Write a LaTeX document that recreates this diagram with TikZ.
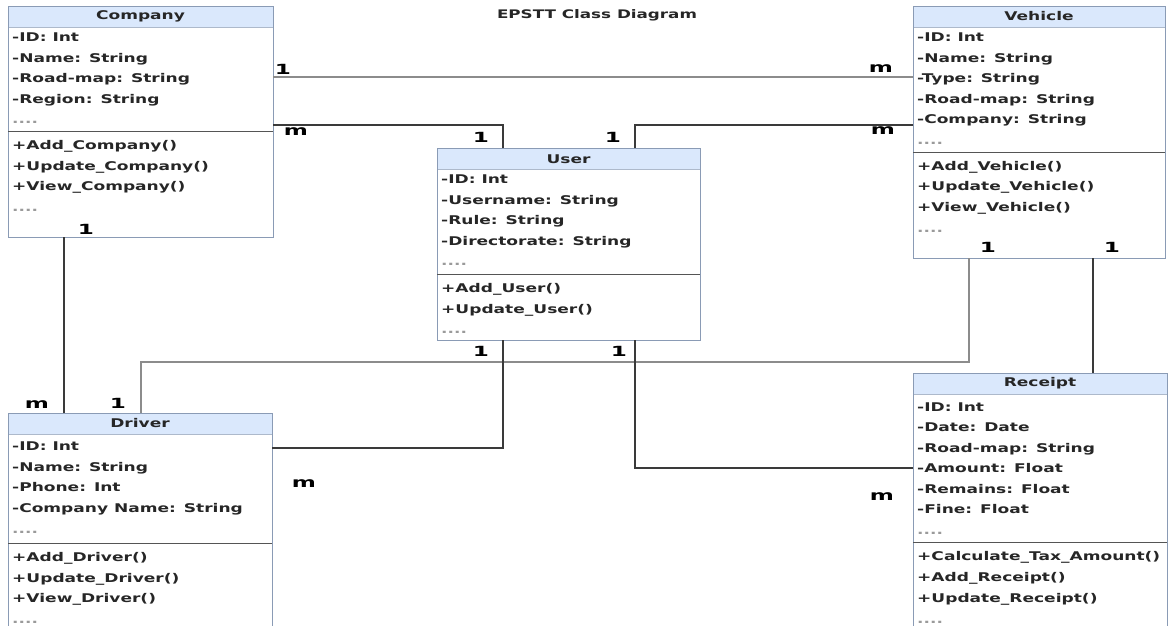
\documentclass[tikz,border=0pt]{standalone}
\usepackage{fontspec}
\newfontfamily\umlbf[FakeStretch=1.42]{DejaVu Sans Bold}
\newfontfamily\multbf[FakeStretch=1.65]{DejaVu Sans Bold}
\definecolor{hdrfill}{HTML}{DAE8FC}
\definecolor{boxline}{HTML}{8A9BB5}
\definecolor{inkc}{HTML}{262626}
\definecolor{dotc}{HTML}{9A9A9A}
\definecolor{wire}{HTML}{3A3A3A}
\definecolor{wirelight}{HTML}{8C8C8C}
\definecolor{sepc}{HTML}{555555}

\begin{document}
\begin{tikzpicture}[x=1pt,y=-1pt,
  classbox/.style={draw=boxline, line width=0.9pt, fill=white, inner sep=0pt,
    outer sep=0pt, anchor=north west,
    path picture={
      \fill[hdrfill] (path picture bounding box.north west) rectangle
        ([yshift=-21pt]path picture bounding box.north east);
      \draw[boxline!70, line width=0.6pt]
        ([yshift=-21pt]path picture bounding box.north west) --
        ([yshift=-21pt]path picture bounding box.north east);}},
  title/.style={font={\umlbf\fontsize{11.8}{14}\selectfont}, text=inkc, inner sep=0pt},
  hdrtext/.style={font={\umlbf\fontsize{12}{14}\selectfont}, text=inkc, inner sep=0pt},
  row/.style={font={\umlbf\fontsize{12}{14}\selectfont}, text=inkc, anchor=west,
    inner sep=0pt, text height=8.8pt, text depth=0pt},
  dots/.style={row, text=dotc},
  mult/.style={font={\multbf\fontsize{14}{16}\selectfont}, text=black, inner sep=0pt},
  assoc/.style={draw=wire, line width=1.3pt},
  assoclight/.style={draw=wirelight, line width=1.6pt},
  sepline/.style={draw=sepc, line width=1pt}
]
\useasboundingbox (0,0) rectangle (1169,625);
\fill[white] (0,0) rectangle (1169,625);
\clip (0,0) rectangle (1169,625);

\node[title] (title) at (597,15) {EPSTT Class Diagram};

% ---------- class frames ----------
\node[classbox, minimum width=265pt, minimum height=231pt] (company) at (8,6) {};
\node[classbox, minimum width=252pt, minimum height=252pt] (vehicle) at (913,6) {};
\node[classbox, minimum width=263pt, minimum height=192pt] (user) at (437,148) {};
\node[classbox, minimum width=264pt, minimum height=230pt] (driver) at (8,413) {};
\node[classbox, minimum width=254pt, minimum height=270pt] (receipt) at (913,373) {};

% ---------- compartments ----------
\draw[sepline] ([yshift=-125pt]company.north west) -- ([yshift=-125pt]company.north east);
\draw[sepline] ([yshift=-146pt]vehicle.north west) -- ([yshift=-146pt]vehicle.north east);
\draw[sepline] ([yshift=-126pt]user.north west) -- ([yshift=-126pt]user.north east);
\draw[sepline] ([yshift=-130pt]driver.north west) -- ([yshift=-130pt]driver.north east);
\draw[sepline] ([yshift=-169pt]receipt.north west) -- ([yshift=-169pt]receipt.north east);

% ---------- Company ----------
\node[hdrtext] (co-h) at (140.5,16.5) {Company};
\foreach \t [count=\i from 0] in {{-ID: Int},{-Name: String},{-Road-map: String},{-Region: String}}
  \node[row] (co-a\i) at (12,{37+20.6*\i}) {\t};
\node[dots] (co-ad) at (12,119.4) {....};
\foreach \t [count=\i from 0] in {{+Add\_Company()},{+Update\_Company()},{+View\_Company()}}
  \node[row] (co-m\i) at (12,{145.5+20.5*\i}) {\t};
\node[dots] (co-md) at (12,207) {....};

% ---------- Vehicle ----------
\node[hdrtext] (ve-h) at (1039,16.5) {Vehicle};
\foreach \t [count=\i from 0] in {{-ID: Int},{-Name: String},{-Type: String},{-Road-map: String},{-Company: String}}
  \node[row] (ve-a\i) at (917,{37+20.6*\i}) {\t};
\node[dots] (ve-ad) at (917,140) {....};
\foreach \t [count=\i from 0] in {{+Add\_Vehicle()},{+Update\_Vehicle()},{+View\_Vehicle()}}
  \node[row] (ve-m\i) at (917,{166+20.5*\i}) {\t};
\node[dots] (ve-md) at (917,228) {....};

% ---------- User ----------
\node[hdrtext] (us-h) at (568.5,159) {User};
\foreach \t [count=\i from 0] in {{-ID: Int},{-Username: String},{-Rule: String},{-Directorate: String}}
  \node[row] (us-a\i) at (441,{179+20.6*\i}) {\t};
\node[dots] (us-ad) at (441,261.5) {....};
\foreach \t [count=\i from 0] in {{+Add\_User()},{+Update\_User()}}
  \node[row] (us-m\i) at (441,{288+20.6*\i}) {\t};
\node[dots] (us-md) at (441,329.5) {....};

% ---------- Driver ----------
\node[hdrtext] (dr-h) at (140,423.5) {Driver};
\foreach \t [count=\i from 0] in {{-ID: Int},{-Name: String},{-Phone: Int},{-Company Name: String}}
  \node[row] (dr-a\i) at (12,{446+20.7*\i}) {\t};
\node[dots] (dr-ad) at (12,529) {....};
\foreach \t [count=\i from 0] in {{+Add\_Driver()},{+Update\_Driver()},{+View\_Driver()}}
  \node[row] (dr-m\i) at (12,{557+20.7*\i}) {\t};
\node[dots] (dr-md) at (12,619) {....};

% ---------- Receipt ----------
\node[hdrtext] (re-h) at (1040,383.5) {Receipt};
\foreach \t [count=\i from 0] in {{-ID: Int},{-Date: Date},{-Road-map: String},{-Amount: Float},{-Remains: Float},{-Fine: Float}}
  \node[row] (re-a\i) at (917,{407+20.5*\i}) {\t};
\node[dots] (re-ad) at (917,530) {....};
\foreach \t [count=\i from 0] in {{+Calculate\_Tax\_Amount()},{+Add\_Receipt()},{+Update\_Receipt()}}
  \node[row] (re-m\i) at (917,{556+21*\i}) {\t};
\node[dots] (re-md) at (917,619) {....};

% ---------- associations ----------
% Company -- Vehicle
\draw[assoclight] ([yshift=-71pt]company.north east) -- ([yshift=-71pt]vehicle.north west);
% Company -- User
\draw[assoc] ([yshift=-119pt]company.north east) -| ([xshift=66pt]user.north west);
% Vehicle -- User
\draw[assoc] ([yshift=-119pt]vehicle.north west) -| ([xshift=198pt]user.north west);
% Company -- Driver
\draw[assoc] ([xshift=56pt]company.south west) -- ([xshift=56pt]driver.north west);
% Vehicle -- Driver
\draw[assoclight] ([xshift=56pt]vehicle.south west) |- ([yshift=-22pt]user.south)
  -| ([xshift=133pt]driver.north west);
% Vehicle -- Receipt
\draw[assoc] ([xshift=180pt]vehicle.south west) -- ([xshift=180pt]receipt.north west);
% User -- Driver
\draw[assoc] ([xshift=66pt]user.south west) |- ([yshift=-35pt]driver.north east);
% User -- Receipt
\draw[assoc] ([xshift=198pt]user.south west) |- ([yshift=-95pt]receipt.north west);

% ---------- multiplicities ----------
\node[mult] (mu1) at (283,69) {1};
\node[mult] (mu2) at (881,69) {m};
\node[mult] (mu3) at (296,132) {m};
\node[mult] (mu4) at (481,137) {1};
\node[mult] (mu5) at (883,131) {m};
\node[mult] (mu6) at (613,137) {1};
\node[mult] (mu7) at (86,229) {1};
\node[mult] (mu8) at (37,405) {m};
\node[mult] (mu9) at (118,403) {1};
\node[mult] (mu10) at (988,247) {1};
\node[mult] (mu11) at (1112,247) {1};
\node[mult] (mu12) at (481,351) {1};
\node[mult] (mu13) at (304,484) {m};
\node[mult] (mu14) at (619,351) {1};
\node[mult] (mu15) at (882,497) {m};
\end{tikzpicture}
\end{document}
